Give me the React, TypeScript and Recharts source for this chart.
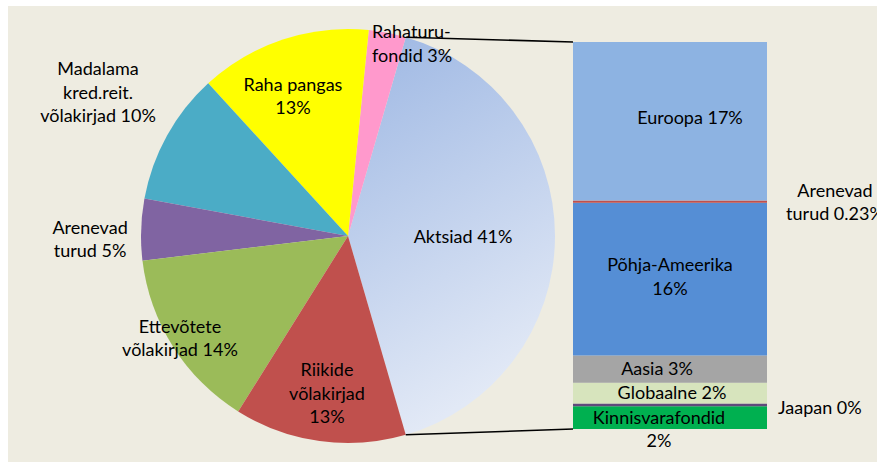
import React from "react";
import { PieChart, Pie, Cell, BarChart, Bar, XAxis, YAxis } from "recharts";

// pie: asset classes (Aktsiad is broken down in the bar on the right)
const PIE_NAMES = ["Aktsiad", "Rahaturu-fondid", "Raha pangas", "Madalama kred.reit. võlakirjad", "Arenevad turud", "Ettevõtete võlakirjad", "Riikide võlakirjad"];
const PIE_VALUES = [41.0, 2.9, 13.4, 10.3, 4.8, 14.2, 13.4];
const PIE_LABELS = ["Aktsiad 41%", "Rahaturu-\nfondid 3%", "Raha pangas\n13%", "Madalama\nkred.reit.\nvõlakirjad 10%", "Arenevad\nturud 5%", "Ettevõtete\nvõlakirjad 14%", "Riikide\nvõlakirjad\n13%"];
const PIE_COLORS = ["url(#aktsiadGrad)", "#ff99cc", "#ffff00", "#4bacc6", "#8064a2", "#9bbb59", "#c0504d"];

// bar: Aktsiad split, listed bottom -> top
const BAR_NAMES = ["Kinnisvarafondid", "Jaapan", "Globaalne", "Aasia", "Põhja-Ameerika", "Arenevad turud", "Euroopa"];
const BAR_VALUES = [2.4, 0.3, 2.2, 2.9, 16.2, 0.23, 16.8];
const BAR_LABELS = ["Kinnisvarafondid\n2%", "Jaapan 0%", "Globaalne 2%", "Aasia 3%", "Põhja-Ameerika\n16%", "Arenevad\nturud 0.23%", "Euroopa 17%"];
const BAR_COLORS = ["#00b050", "#604a7b", "#d7e4bd", "#a5a5a5", "#558ed5", "#c0504d", "#8db3e2"];

const W = 869;
const H = 456;
const CX = 340;
const CY = 230;
const R = 207;
const BAR_M = { top: 36, bottom: 33, left: 565, right: 110 };
const FONT = "Lato, 'Noto Sans', sans-serif";
const FS = 18;
const LH = 23.5;
const RAD = Math.PI / 180;

// label placement: radius factor, angle shift, anchor
const PIE_LABEL_POS = [
    { rf: 0.556, da: 0, anchor: "middle" },
    { rf: 0.94, da: 3.9, anchor: "start" },
    { rf: 0.73, da: 3, anchor: "middle" },
    { rf: 1.394, da: -1, anchor: "middle" },
    { rf: 1.246, da: 2.35, anchor: "middle" },
    { rf: 0.948, da: -1.3, anchor: "middle" },
    { rf: 0.765, da: 0.3, anchor: "middle" },
];

const BAR_LABEL_POS = [
    { outside: false, dx: -11, dy: 11 },
    { outside: true, dx: 11, dy: 2.5, anchor: "start" },
    { outside: false, dx: 2, dy: -1 },
    { outside: false, dx: -13, dy: -1 },
    { outside: false, dx: 0, dy: -3 },
    { outside: true, dx: 68, dy: 0, anchor: "middle" },
    { outside: false, dx: 20, dy: -4 },
];

const aktsiadSweep = (PIE_VALUES[0] / PIE_VALUES.reduce((a, b) => a + b, 0)) * 360;
const START = -aktsiadSweep / 2;
const barTotal = BAR_VALUES.reduce((a, b) => a + b, 0);

const pieData = PIE_NAMES.map((n, i) => ({ name: n, value: PIE_VALUES[i] }));
const barRow: Record<string, any> = { name: "Aktsiad" };
BAR_NAMES.forEach((n, i) => (barRow["s" + i] = BAR_VALUES[i]));
const barData = [barRow];

function MultiLine({ x, y, text, anchor }: { x: number; y: number; text: string; anchor: any }) {
    const lines = text.split("\n");
    const y0 = y - ((lines.length - 1) * LH) / 2;
    return (
        <text x={x} y={y0} textAnchor={anchor} fontFamily={FONT} fontSize={FS} fill="#000">
            {lines.map((l, k) => (
                <tspan key={k} x={x} y={y0 + k * LH} dominantBaseline="central">{l}</tspan>
            ))}
        </text>
    );
}

const renderPieLabel = (p: any) => {
    const pos = PIE_LABEL_POS[p.index];
    const a = (p.midAngle + pos.da) * RAD;
    const r = p.outerRadius * pos.rf;
    const x = p.cx + r * Math.cos(a);
    const y = p.cy - r * Math.sin(a);
    return <MultiLine key={p.index} x={x} y={y} text={PIE_LABELS[p.index]} anchor={pos.anchor} />;
};

const barLabel = (i: number) => (p: any) => {
    const pos = BAR_LABEL_POS[i];
    const h = Math.abs(p.height);
    const top = Math.min(p.y, p.y + p.height);
    const x = pos.outside ? p.x + p.width + pos.dx : p.x + p.width / 2 + pos.dx;
    const y = top + h / 2 + pos.dy;
    return <MultiLine x={x} y={y} text={BAR_LABELS[i]} anchor={pos.anchor || "middle"} />;
};

export default function App() {
    const endA = -START * RAD;
    const p1 = { x: CX + R * Math.cos(endA), y: CY - R * Math.sin(endA) };
    const p2 = { x: CX + R * Math.cos(endA), y: CY + R * Math.sin(endA) };
    const barTop = BAR_M.top;
    const barBottom = H - BAR_M.bottom;

    return (
        <div style={{ position: "relative", width: 877, height: 462, overflow: "hidden" }}>
            <style>{"html,body{margin:0;padding:0;overflow:hidden;}"}</style>
            <div style={{ position: "absolute", left: 8, top: 6, width: W, height: H, background: "#eeece1" }}>
                <div style={{ position: "absolute", left: 0, top: 0 }}>
                    <PieChart width={W} height={H} margin={{ top: 0, right: 0, bottom: 0, left: 0 }}>
                        <defs>
                            <linearGradient id="aktsiadGrad" x1="0" y1="0" x2="0.3" y2="1">
                                <stop offset="0%" stopColor="#9db7e3" />
                                <stop offset="100%" stopColor="#e2e9f6" />
                            </linearGradient>
                        </defs>
                        <Pie
                            data={pieData}
                            dataKey="value"
                            cx={CX}
                            cy={CY}
                            outerRadius={R}
                            startAngle={START}
                            endAngle={START + 360}
                            stroke="none"
                            label={renderPieLabel}
                            labelLine={false}
                            isAnimationActive={false}
                        >
                            {pieData.map((d, i) => (
                                <Cell key={d.name} fill={PIE_COLORS[i]} />
                            ))}
                        </Pie>
                    </PieChart>
                </div>
                <div style={{ position: "absolute", left: 0, top: 0 }}>
                    <BarChart width={W} height={H} data={barData} margin={BAR_M} barCategoryGap={0} barGap={0}>
                        <XAxis dataKey="name" hide />
                        <YAxis hide domain={[0, barTotal]} />
                        {BAR_NAMES.map((n, i) => (
                            <Bar
                                key={n}
                                name={n}
                                dataKey={"s" + i}
                                stackId="a"
                                fill={BAR_COLORS[i]}
                                label={barLabel(i)}
                                isAnimationActive={false}
                            />
                        ))}
                    </BarChart>
                </div>
                <svg width={W} height={H} style={{ position: "absolute", left: 0, top: 0, pointerEvents: "none" }}>
                    <line x1={p1.x} y1={p1.y} x2={BAR_M.left} y2={barTop} stroke="#000" strokeWidth={1.6} />
                    <line x1={p2.x} y1={p2.y} x2={BAR_M.left} y2={barBottom} stroke="#000" strokeWidth={1.6} />
                </svg>
            </div>
        </div>
    );
}
